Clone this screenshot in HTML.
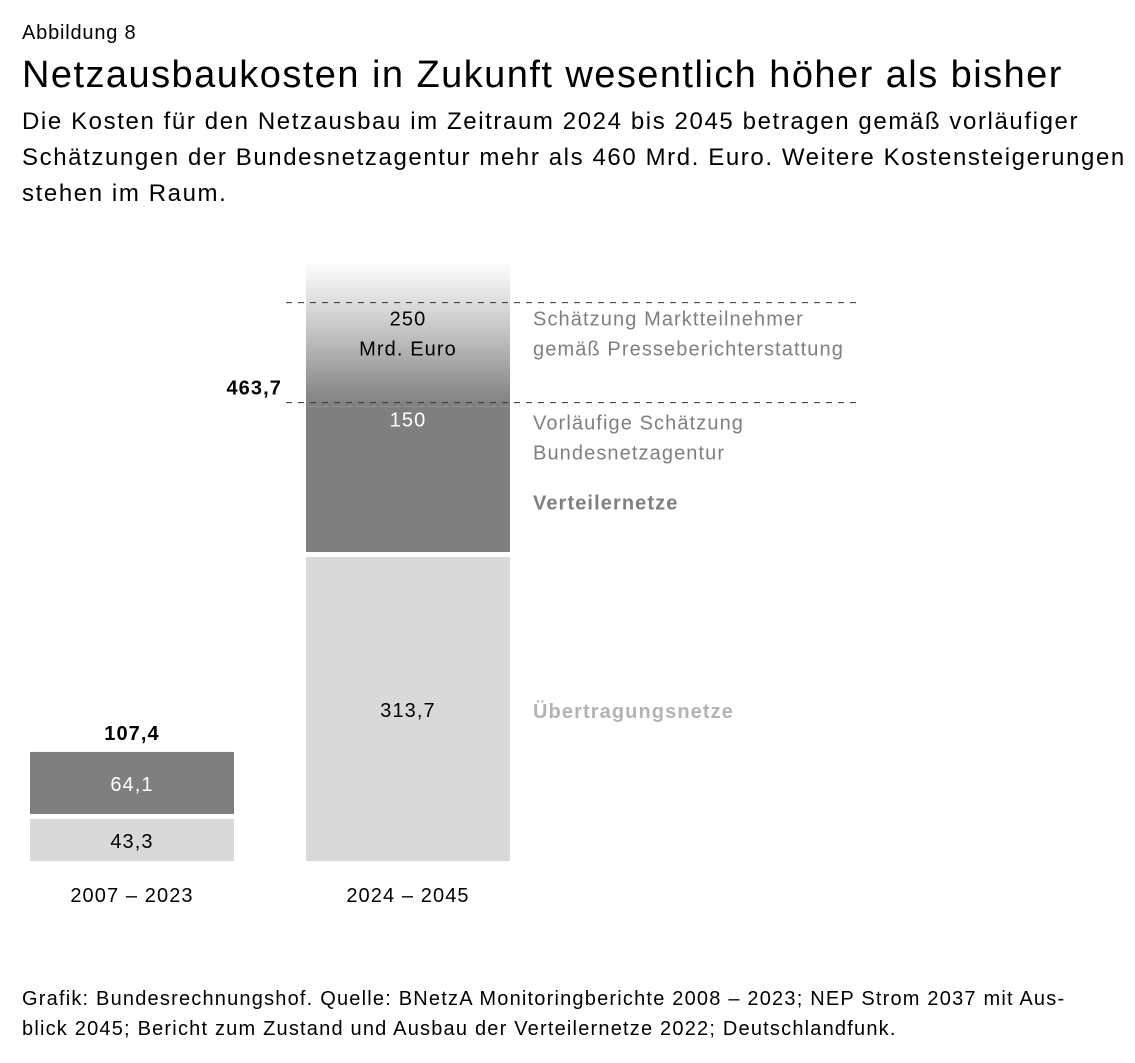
<!DOCTYPE html>
<html><head><meta charset="utf-8"><style>
body{margin:0;background:#fff;width:1135px;height:1063px;overflow:hidden;font-family:"Liberation Sans",sans-serif;color:#000}
.t{position:absolute;white-space:nowrap}
</style></head><body>
<div class="t" style="left:22px;top:22px;font-size:20px;letter-spacing:0.8px">Abbildung 8</div>
<div class="t" style="left:22px;top:54px;font-size:38px;letter-spacing:1.45px">Netzausbaukosten in Zukunft wesentlich höher als bisher</div>
<div class="t" style="left:22px;top:104px;font-size:24px;line-height:36px;letter-spacing:1.6px">Die Kosten für den Netzausbau im Zeitraum 2024 bis 2045 betragen gemäß vorläufiger<br>Schätzungen der Bundesnetzagentur mehr als 460 Mrd. Euro. Weitere Kostensteigerungen<br>stehen im Raum.</div>
<svg width="1135" height="1063" style="position:absolute;left:0;top:0" font-family="Liberation Sans, sans-serif" letter-spacing="1.1" id="chart">
<defs><linearGradient id="fade" x1="0" y1="1" x2="0" y2="0">
<stop offset="0" stop-color="#7f7f7f"/><stop offset="0.55" stop-color="#c8c8c8"/><stop offset="1" stop-color="#ffffff"/></linearGradient></defs>
</svg>
<div class="t" style="left:22px;top:984px;font-size:20px;line-height:30px;letter-spacing:1.2px">Grafik: Bundesrechnungshof. Quelle: BNetzA Monitoringberichte 2008 – 2023; NEP Strom 2037 mit Aus-<br>blick 2045; Bericht zum Zustand und Ausbau der Verteilernetze 2022; Deutschlandfunk.</div>
<script>
const categories=["2007 – 2023","2024 – 2045"];
const uebertragung=[43.3,313.7];
const verteiler=[64.1,150];
const totals=["107,4","463,7"];
const estimate=250;
const svg=document.getElementById('chart');
const NS="http://www.w3.org/2000/svg";
const base=861,scale=0.969,gap=5,barW=204;
const xPos=i=>30+i*276;
const h=v=>v*scale;
function el(tag,attrs,name,txt){const e=document.createElementNS(NS,tag);for(const k in attrs)e.setAttribute(k,attrs[k]);


if(txt!==undefined)e.textContent=txt;svg.appendChild(e);return e;}
const fmt=v=>String(v).replace('.',',');
let darkTop2=0;
categories.forEach((c,i)=>{
 const x=xPos(i);
 const lh=h(uebertragung[i]),ly=base-lh;
 el('rect',{x:x,y:ly,width:barW,height:lh,fill:'#d9d9d9'},'bar-uebertragungsnetze-'+i);
 const dh=h(verteiler[i]),dy=ly-gap-dh;
 el('rect',{x:x,y:dy,width:barW,height:dh,fill:'#7f7f7f'},'bar-verteilernetze-'+i);
 const fs=20;
 el('text',{x:x+barW/2,y:ly+lh/2+8,'text-anchor':'middle','font-size':fs,fill:'#000'},'value-uebertragung-'+i,fmt(uebertragung[i]));
 el('text',{x:x+barW/2,y:(i==0?dy+dh/2+8:dy+20),'text-anchor':'middle','font-size':fs,fill:'#fff'},'value-verteiler-'+i,fmt(verteiler[i]));
 el('text',{x:x+barW/2,y:902,'text-anchor':'middle','font-size':20,fill:'#000'},'x-label-'+i,c);
 if(i==0) el('text',{x:x+barW/2,y:dy-12,'text-anchor':'middle','font-size':20,'font-weight':'bold'},'total-label-'+i,totals[i]);
 if(i==1){darkTop2=dy-4;}
});
const x2=xPos(1),gh=h(estimate)*0.6;
el('rect',{x:x2,y:darkTop2+4-gh,width:barW,height:gh,fill:'url(#fade)'},'bar-estimate-gradient');
el('line',{x1:286,x2:860,y1:darkTop2,y2:darkTop2,stroke:'#333','stroke-dasharray':'6,6','stroke-width':1},'dashed-line-lower');
el('line',{x1:286,x2:860,y1:darkTop2-100,y2:darkTop2-100,stroke:'#333','stroke-dasharray':'6,6','stroke-width':1},'dashed-line-upper');
el('text',{x:x2+barW/2,y:darkTop2-77,'text-anchor':'middle','font-size':20},'value-estimate',String(estimate));
el('text',{x:x2+barW/2,y:darkTop2-47,'text-anchor':'middle','font-size':20},'value-estimate-unit','Mrd. Euro');
el('text',{x:282,y:darkTop2-8,'text-anchor':'end','font-size':20,'font-weight':'bold'},'total-label-1',totals[1]);
const lg=[["Schätzung Marktteilnehmer",darkTop2-77,'#7f7f7f','normal'],["gemäß Presseberichterstattung",darkTop2-47,'#7f7f7f','normal'],["Vorläufige Schätzung",darkTop2+27,'#7f7f7f','normal'],["Bundesnetzagentur",darkTop2+57,'#7f7f7f','normal'],["Verteilernetze",darkTop2+107,'#7f7f7f','bold'],["Übertragungsnetze",718,'#b3b3b3','bold']];
lg.forEach((l,k)=>{el('text',{x:533,y:l[1],'font-size':20,fill:l[2],'font-weight':l[3]},'legend-label-'+k,l[0]);});
</script>
</body></html>
